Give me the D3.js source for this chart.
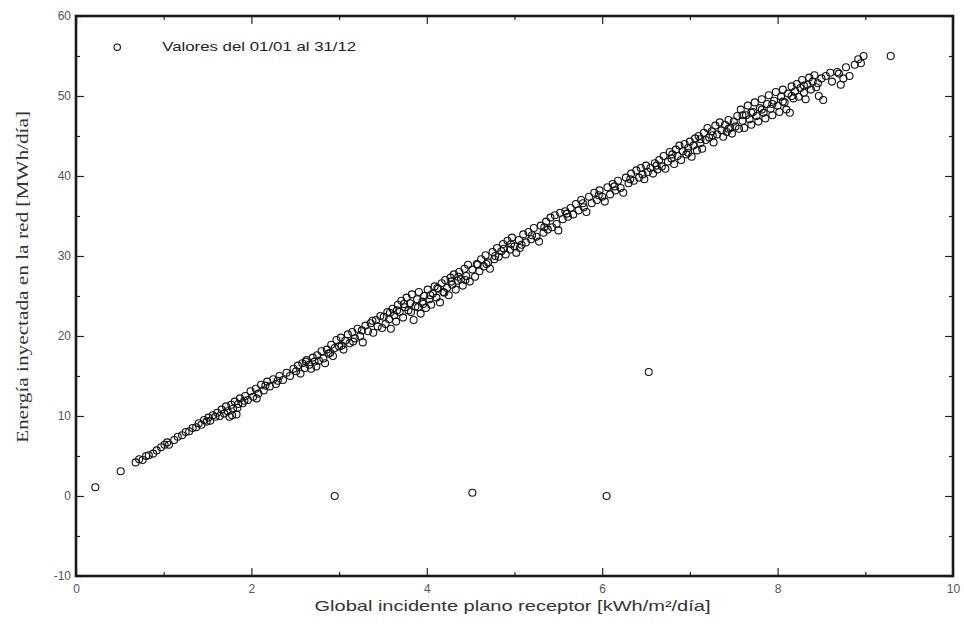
<!DOCTYPE html>
<html>
<head>
<meta charset="utf-8">
<script src="https://cdn.jsdelivr.net/npm/d3@7"></script>
<style>
  html, body { margin: 0; padding: 0; background: #fff; }
  svg { display: block; }
</style>
</head>
<body>
<svg id="chart" width="964" height="628"></svg>
<script>
// Daily irradiation on the receiver plane [kWh/m²/día] vs. energy injected [MWh/día]
const seriesLow = [
  [0.68,4.2],[0.72,4.6],[0.76,4.5],[0.80,5.0],[0.83,5.1],[0.88,5.3],[0.92,5.7],[0.97,6.1],[1.01,6.4],[1.04,6.7],[1.06,6.4],
  [1.12,7.0],[1.16,7.4],[1.21,7.6],[1.25,8.0],[1.29,8.1],[1.33,8.5],[1.37,8.6],[1.40,9.1],[1.43,8.9],[1.46,9.5],[1.49,9.3],
  [1.51,9.8],[1.53,9.4],[1.56,10.1],[1.59,9.9],[1.61,10.4],[1.64,10.0],[1.66,10.8],[1.69,10.3],[1.71,11.2],[1.73,10.6],[1.75,9.9],
  [1.77,11.4],[1.79,10.9],[1.81,11.8],[1.83,10.2],[1.85,11.5],[1.87,12.2],[1.90,11.6],[1.93,12.5],[1.96,12.0],[1.99,13.1],[2.02,12.4],
  [2.05,13.4],[2.08,12.8],[2.11,13.9],[2.14,13.2],[2.18,14.3],[2.21,13.7],[2.25,14.6],[2.28,14.0],[2.32,15.0],[2.36,14.5],[2.40,15.4],
  [2.44,15.0],[2.48,15.9]
];
const seriesMid = [
  [2.51,15.6],[2.53,16.3],[2.56,15.3],[2.58,16.6],[2.61,16.0],[2.63,17.0],[2.66,16.4],[2.68,15.9],[2.70,17.3],[2.72,16.8],[2.75,17.6],
  [2.77,16.9],[2.80,18.1],[2.82,17.2],[2.84,16.6],[2.86,18.3],[2.88,17.8],[2.91,18.9],[2.93,17.5],[2.95,18.5],[2.97,19.5],[3.00,18.7],
  [3.02,19.8],[3.05,18.3],[3.07,19.4],[3.10,20.2],[3.12,19.1],[3.15,20.5],[3.18,19.7],[3.21,20.9],[3.24,20.0],[3.27,19.2],[3.30,21.3],
  [3.33,20.6],[3.36,21.6],[3.39,20.4],[3.42,22.0],[3.44,21.2],[3.47,22.5],[3.49,21.0],
  [3.51,22.4],[3.53,21.5],[3.55,23.0],[3.57,22.1],[3.59,20.9],[3.61,23.4],[3.63,22.6],[3.65,21.8],[3.67,23.9],[3.69,23.0],[3.71,24.4],
  [3.73,22.3],[3.75,23.6],[3.77,24.8],[3.79,23.2],[3.81,24.1],[3.83,25.2],[3.85,22.0],[3.87,23.7],[3.89,24.6],[3.91,25.5],[3.93,22.8],
  [3.95,24.3],[3.97,25.0],[3.99,23.5],[4.01,25.8],[4.03,24.6],[4.05,23.9],[4.07,25.3],[4.09,26.2],[4.11,24.8],[4.13,25.9],[4.15,24.2],
  [4.17,26.6],[4.19,25.5],[4.21,27.0],[4.23,26.0],[4.25,25.1],[4.27,27.3],[4.29,26.4],[4.31,27.7],[4.33,25.8],[4.35,26.9],[4.37,28.0],
  [4.39,27.1],[4.41,26.3],[4.43,28.4],[4.45,27.5],[4.47,28.9],[4.49,26.8],
  [4.52,28.3],[4.55,27.4],[4.57,29.0],[4.60,28.1],[4.62,29.6],[4.65,28.7],[4.67,30.1],[4.70,29.2],[4.72,28.4],[4.75,30.5],[4.77,29.6],
  [4.80,31.0],[4.82,29.9],[4.85,30.6],[4.87,31.5],[4.90,30.2],[4.92,31.9],[4.95,30.8],[4.97,32.3],[5.00,31.2],[5.02,30.4],[5.05,32.0],
  [5.08,31.4],[5.10,32.7],[5.13,31.7],[5.16,33.0],[5.19,32.1],[5.22,33.5],[5.25,32.4],[5.28,31.8],[5.30,33.8],[5.33,32.9],[5.36,34.3],
  [5.38,33.3],[5.41,34.8],[5.43,33.6],[5.46,35.1],[5.48,34.0],[5.50,33.2],[5.52,35.4]
];
const seriesHigh = [
  [5.55,34.6],[5.58,35.6],[5.61,34.9],[5.64,36.0],[5.67,35.2],[5.70,36.5],[5.73,35.7],[5.76,37.0],[5.79,36.1],[5.82,35.5],[5.85,37.4],
  [5.88,36.6],[5.91,37.9],[5.94,37.0],[5.97,38.2],[6.00,37.4],[6.03,36.8],[6.06,38.6],[6.09,37.7],[6.12,39.0],[6.15,38.2],[6.18,39.4],
  [6.21,38.5],[6.24,37.9],[6.27,39.8],[6.30,39.1],[6.33,40.3],[6.36,39.4],[6.39,40.7],[6.42,39.8],[6.44,41.0],[6.46,40.2],[6.48,39.6],
  [6.50,41.3],[6.52,40.5],
  [6.55,41.0],[6.58,40.3],[6.60,41.6],[6.63,40.8],[6.65,42.0],[6.68,41.2],[6.70,42.5],[6.72,40.9],[6.75,41.8],[6.77,43.0],[6.79,42.2],
  [6.82,41.5],[6.84,43.3],[6.86,42.5],[6.88,43.8],[6.90,42.0],[6.92,43.1],[6.94,44.0],[6.96,42.7],[6.98,43.5],[7.00,44.3],[7.02,42.4],
  [7.04,43.8],[7.06,44.7],[7.08,43.2],[7.10,45.0],[7.12,44.1],[7.14,43.4],[7.16,45.4],[7.18,44.5],[7.20,46.0],[7.22,44.8],[7.25,45.6],
  [7.27,44.2],[7.29,46.3],[7.31,45.2],[7.34,46.7],[7.36,45.7],[7.38,44.9],[7.40,46.4],[7.42,45.5],[7.44,47.0],[7.46,46.0],[7.48,45.3],
  [7.50,46.8],
  [7.52,46.2],[7.54,47.5],[7.56,45.9],[7.58,48.3],[7.60,46.9],[7.62,46.0],[7.64,47.6],[7.66,48.8],[7.68,47.1],[7.70,46.4],[7.72,48.0],
  [7.74,49.2],[7.76,47.5],[7.78,46.8],[7.80,48.5],[7.82,49.6],[7.84,47.9],[7.86,47.2],[7.88,49.0],[7.90,50.1],[7.92,48.4],[7.94,47.6],
  [7.96,49.4],[7.98,50.5],[8.00,48.8],[8.02,48.0],[8.04,49.9],[8.06,50.8],[8.08,49.2],[8.10,48.3],[8.12,50.3],[8.14,47.9],[8.16,51.2],
  [8.18,49.7],[8.20,50.6],[8.22,51.5],[8.24,49.9],[8.26,51.0],[8.28,52.0],[8.30,50.4],[8.32,49.6],[8.34,51.4],[8.36,52.3],[8.38,50.8],
  [8.40,51.8],[8.42,52.6],[8.44,51.1],[8.47,50.0],[8.50,52.2],[8.52,49.5],
  [8.55,52.5],[8.62,51.8],[8.68,53.0],[8.70,52.8],[8.72,51.4],[8.75,52.2],[8.78,53.6],[8.82,52.5],[8.88,53.9],[8.92,54.6],[8.95,54.1],
  [8.98,55.0]
];
// Further days that overlap inside the densest part of the cloud
const seriesDense = [
  [1.78,10.1],[1.84,11.0],[1.92,11.9],[2.06,12.2],[2.16,13.8],[2.30,14.4],[2.62,16.8],[2.74,16.2],[2.90,17.9],[3.03,18.8],
  [3.16,19.3],[3.26,20.7],[3.38,21.9],[3.58,22.9],[3.66,23.2],[3.74,24.0],[3.82,23.0],[3.90,23.6],[3.96,24.0],[4.04,25.1],
  [4.12,26.0],[4.20,25.4],[4.28,26.8],[4.36,27.4],[4.44,27.0],[4.58,28.9],[4.68,29.0],[4.78,30.0],[4.88,30.9],[4.96,31.5],
  [5.06,31.0],[5.20,32.6],[5.34,33.6],[5.60,35.3],[5.78,36.6],[5.96,37.6],[6.14,38.7],[6.32,39.6],[6.62,41.3],[6.80,42.7],
  [6.98,42.9],[7.12,44.6],[7.26,45.1],[7.44,45.9],[7.60,47.6],[7.70,47.9],[7.82,48.3],[7.94,49.0],[8.06,49.3],[8.16,50.0],
  [8.30,51.3],[8.46,51.6],[8.60,52.9]
];
// Isolated days far from the main cloud
const seriesIsolated = [
  [0.22,1.1],[0.51,3.1],[2.95,0.0],[4.52,0.4],[6.05,0.0],[6.53,15.5],[9.29,55.0]
];

const xMajorTicks = [0, 2, 4, 6, 8, 10];
const xMinorTicks = [1, 3, 5, 7, 9];
const yMajorTicks = [-10, 0, 10, 20, 30, 40, 50, 60];
const yMinorTicks = [-5, 5, 15, 25, 35, 45, 55];

const legendText = "Valores del 01/01 al 31/12";
const xTitle = "Global incidente plano receptor [kWh/m²/día]";
const yTitle = "Energía inyectada en la red [MWh/día]";

const W = 964, H = 628;
const margin = { top: 16, right: 11, bottom: 52, left: 76 };
const iw = W - margin.left - margin.right;
const ih = H - margin.top - margin.bottom;

const svg = d3.select("#chart");
const g = svg.append("g").attr("transform", `translate(${margin.left},${margin.top})`);

const x = d3.scaleLinear().domain([0, 10]).range([0, iw]);
const y = d3.scaleLinear().domain([-10, 60]).range([ih, 0]);

const tickColor = "#222";
const labelFont = "'Liberation Sans', Arial, sans-serif";
const plainFormat = d => String(d);

function styleAxis(sel, withLabels) {
  sel.select(".domain").remove();
  sel.selectAll(".tick line").attr("stroke", tickColor).attr("stroke-width", 1.2);
  sel.selectAll(".tick text")
    .attr("fill", "#555")
    .attr("font-family", labelFont)
    .attr("font-size", 12)
    .style("display", withLabels ? null : "none");
}

// Bottom axis: labelled majors, short minors, all pointing inward
g.append("g").attr("transform", `translate(0,${ih})`)
  .call(d3.axisBottom(x).tickValues(xMajorTicks).tickSize(-8).tickPadding(8).tickFormat(plainFormat))
  .call(s => styleAxis(s, true));
g.append("g").attr("transform", `translate(0,${ih})`)
  .call(d3.axisBottom(x).tickValues(xMinorTicks).tickSize(-4))
  .call(s => styleAxis(s, false));
// Top axis
g.append("g")
  .call(d3.axisTop(x).tickValues(xMajorTicks).tickSize(-8))
  .call(s => styleAxis(s, false));
g.append("g")
  .call(d3.axisTop(x).tickValues(xMinorTicks).tickSize(-4))
  .call(s => styleAxis(s, false));
// Left axis
g.append("g")
  .call(d3.axisLeft(y).tickValues(yMajorTicks).tickSize(-8).tickPadding(5).tickFormat(plainFormat))
  .call(s => styleAxis(s, true));
g.append("g")
  .call(d3.axisLeft(y).tickValues(yMinorTicks).tickSize(-4))
  .call(s => styleAxis(s, false));
// Right axis
g.append("g").attr("transform", `translate(${iw},0)`)
  .call(d3.axisRight(y).tickValues(yMajorTicks).tickSize(-8))
  .call(s => styleAxis(s, false));
g.append("g").attr("transform", `translate(${iw},0)`)
  .call(d3.axisRight(y).tickValues(yMinorTicks).tickSize(-4))
  .call(s => styleAxis(s, false));

// Frame
g.append("rect")
  .attr("x", 0).attr("y", 0).attr("width", iw).attr("height", ih)
  .attr("fill", "none").attr("stroke", "#1a1a1a").attr("stroke-width", 2.6);

// Points
const allPoints = seriesLow.concat(seriesMid, seriesHigh, seriesDense, seriesIsolated);
g.append("g").selectAll("circle")
  .data(allPoints)
  .join("circle")
  .attr("cx", d => x(d[0]))
  .attr("cy", d => y(d[1]))
  .attr("r", 3.5)
  .attr("fill", "none")
  .attr("stroke", "#111")
  .attr("stroke-width", 1.1);

// Legend
const legend = g.append("g").attr("transform", `translate(${x(0.47)},${y(56.1)})`);
legend.append("circle").attr("r", 3.2).attr("fill", "none").attr("stroke", "#111").attr("stroke-width", 1.1);
legend.append("text")
  .attr("x", 45).attr("dy", "0.35em")
  .attr("font-family", labelFont).attr("font-size", 12).attr("fill", "#222")
  .attr("textLength", 194).attr("lengthAdjust", "spacingAndGlyphs")
  .text(legendText);

// Axis titles
svg.append("text")
  .attr("x", margin.left + iw / 2 - 2).attr("y", 611)
  .attr("text-anchor", "middle")
  .attr("font-family", labelFont).attr("font-size", 14.5).attr("fill", "#333")
  .attr("textLength", 396).attr("lengthAdjust", "spacingAndGlyphs")
  .text(xTitle);

svg.append("text")
  .attr("transform", `translate(28,277) rotate(-90)`)
  .attr("text-anchor", "middle")
  .attr("font-family", "'Liberation Serif', 'Times New Roman', serif")
  .attr("font-size", 16).attr("fill", "#333")
  .attr("textLength", 332).attr("lengthAdjust", "spacingAndGlyphs")
  .text(yTitle);
</script>
</body>
</html>
